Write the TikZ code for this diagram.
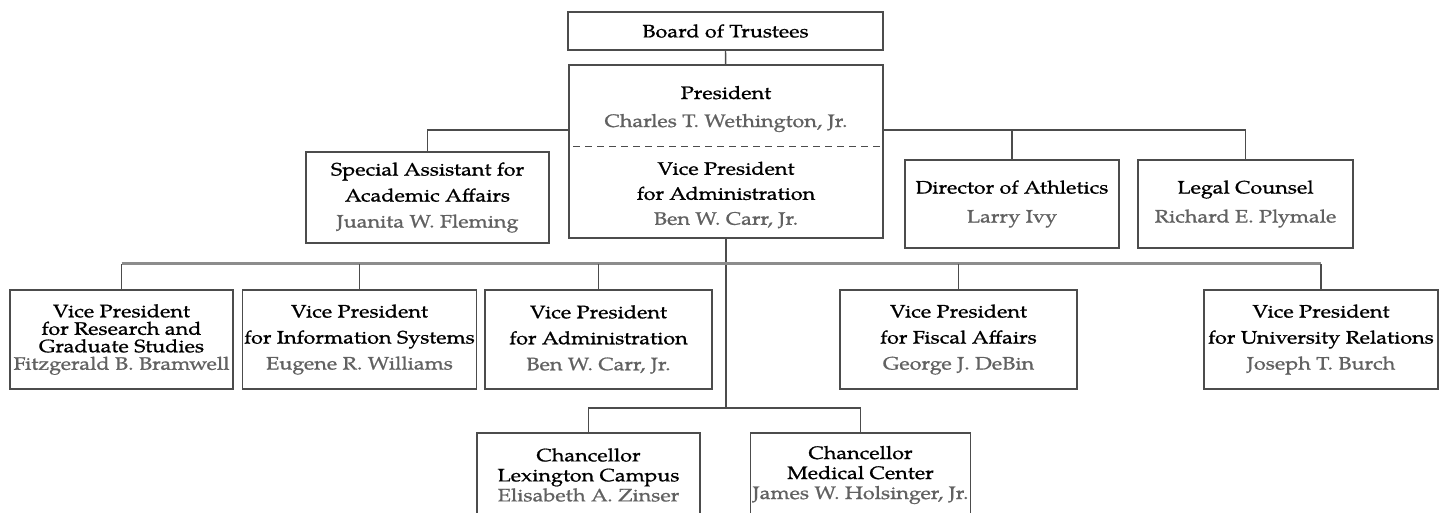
\documentclass[tikz,border=0pt]{standalone}
\usepackage{fontspec}
\setmainfont{TeX Gyre Pagella}[FakeStretch=1.2, FakeBold=0.9]
\usepackage{tikz}
\usetikzlibrary{calc}
\usetikzlibrary{positioning}
\tikzstyle{block} = [draw=black!70, line width=1.3pt, fill=white, rectangle,
    align=center, inner sep=2pt, font=\fontsize{18}{26}\selectfont]
\tikzstyle{txt} = [align=center, inner sep=0pt]
\tikzstyle{line} = [draw=black!70, line width=1.3pt]
\tikzstyle{bus} = [draw=black!45, line width=3pt]
\newcommand{\who}[1]{\textcolor{black!62}{#1}}

\begin{document}
\begin{tikzpicture}[x=1pt, y=-1pt]
    \useasboundingbox (0,0) rectangle (1446,513);
    % We start by placing the blocks at the top
    \node [block, minimum width=315pt, minimum height=38pt] (board) at (725.5,31) {Board of Trustees};
    \node [block, minimum width=314pt, minimum height=173pt] (pres) at (726,151.5) {};
    \node [txt, font=\fontsize{18}{28}\selectfont] (prestop) at (726,109) {President\\ \who{Charles T. Wethington, Jr.}};
    \node [txt, font=\fontsize{18}{25}\selectfont] (presvp) at (726,195) {Vice President\\ for Administration\\ \who{Ben W. Carr, Jr.}};
    \coordinate (split) at (726,147);
    \draw [line, dashed, dash pattern=on 7pt off 5pt, line width=1pt, shorten <=5pt, shorten >=4pt]
        (pres.west |- split) -- (pres.east |- split);

    \node [block, minimum width=243pt, minimum height=91pt] (special) at (427.5,197.5) {Special Assistant for\\ Academic Affairs\\ \who{Juanita W. Fleming}};
    \node [block, minimum width=214pt, minimum height=88pt, font=\fontsize{18}{29}\selectfont] (athletics) at (1012,204) {Director of Athletics\\ \who{Larry Ivy}};
    \node [block, minimum width=215pt, minimum height=88pt, font=\fontsize{18}{29}\selectfont] (legal) at (1245.5,204) {Legal Counsel\\ \who{Richard E. Plymale}};

    % the vice presidents
    \node [block, minimum width=223pt, minimum height=99pt, font=\fontsize{18}{17.5}\selectfont] (vpresearch) at (121.5,339.5) {Vice President\\ for Research and\\ Graduate Studies\\ \who{Fitzgerald B. Bramwell}};
    \node [block, minimum width=225pt, minimum height=99pt] (vpinfo) at (359.5,339.5) {Vice President\\ for Information Systems\\ \who{Eugene R. Williams}};
    \node [block, minimum width=227pt, minimum height=99pt] (vpadmin) at (598.5,339.5) {Vice President\\ for Administration\\ \who{Ben W. Carr, Jr.}};
    \node [block, minimum width=237pt, minimum height=99pt] (vpfiscal) at (958.5,339.5) {Vice President\\ for Fiscal Affairs\\ \who{George J. DeBin}};
    \node [block, minimum width=234pt, minimum height=99pt] (vpuniv) at (1321,339.5) {Vice President\\ for University Relations\\ \who{Joseph T. Burch}};

    % the chancellors
    \node [block, minimum width=223pt, minimum height=84pt, font=\fontsize{18}{20}\selectfont] (lexington) at (588.5,475) {Chancellor\\ Lexington Campus\\ \who{Elisabeth A. Zinser}};
    \node [block, minimum width=215pt, minimum height=84pt, font=\fontsize{18}{20}\selectfont] (medical) at (860.5,475) {Chancellor\\ Medical Center\\ \who{James W. Holsinger, Jr.}};

    % Once the nodes are placed, connecting them is easy.
    \coordinate (topbus) at (726,130);
    \coordinate (vpbus) at (726,264);
    \coordinate (chbus) at (726,408);
    \draw [line] (board) -- (pres);
    \draw [line] (special.north) |- (pres.west |- topbus);
    \draw [line] (pres.east |- topbus) -| (legal.north);
    \draw [line] (athletics.north) -- (athletics.north |- topbus);
    \draw [line] (pres.south) -- (chbus);
    \draw [bus] (vpresearch.north |- vpbus) -- (vpuniv.north |- vpbus);
    \foreach \vp in {vpresearch, vpinfo, vpadmin, vpfiscal, vpuniv}
        \draw [line] (\vp.north) -- (\vp.north |- vpbus);
    \draw [line] (lexington.north) |- (chbus) -| (medical.north);
\end{tikzpicture}
\end{document}
